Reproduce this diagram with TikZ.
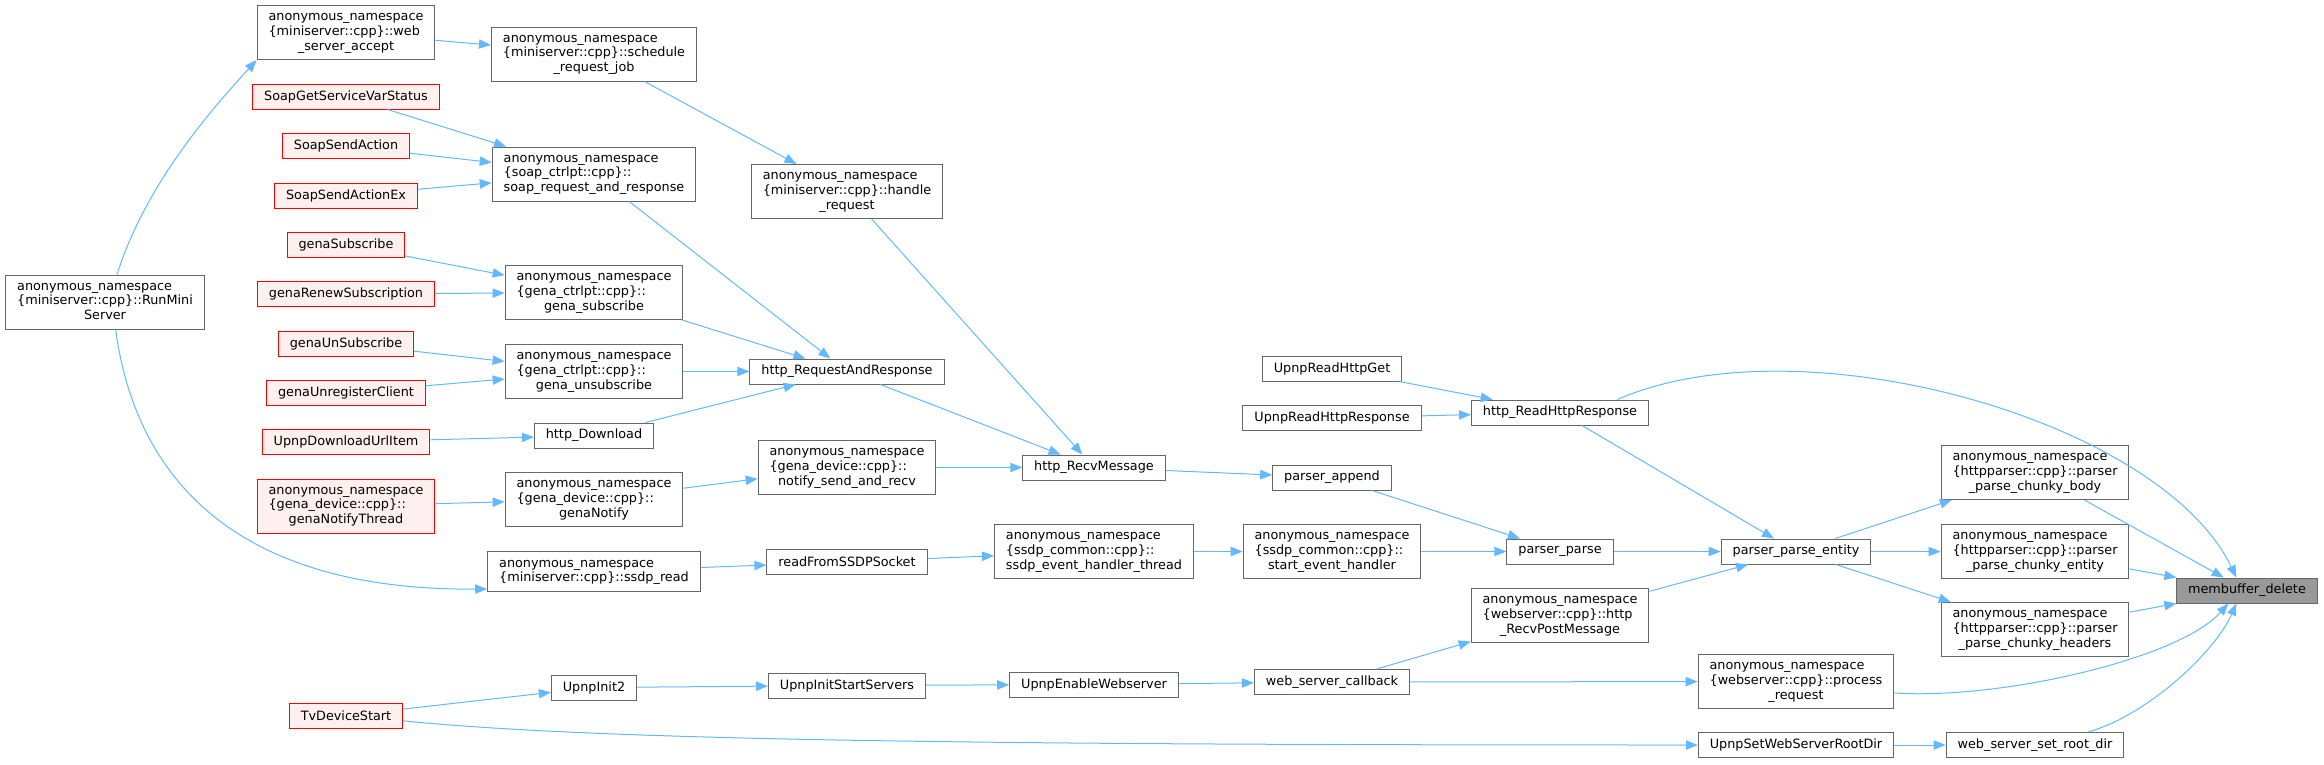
\documentclass[tikz,border=0pt]{standalone}
\usepackage{fontspec}
\setmainfont{DejaVu Sans}
\usepackage{xcolor}
\usetikzlibrary{arrows.meta}
\definecolor{edgeblue}{HTML}{63B8FF}
\definecolor{nodegray}{HTML}{666666}
\definecolor{redfill}{HTML}{FFF0F0}
\definecolor{selgray}{HTML}{999999}
\newcommand{\fnlabel}[3]{\begin{tabular}{@{}l@{}}#1\\#2\\\multicolumn{1}{@{}c@{}}{#3}\end{tabular}}
\newcommand{\fnlabelii}[2]{\begin{tabular}{@{}l@{}}#1\\#2\end{tabular}}
\tikzset{
  fn/.style={draw=nodegray, fill=white, line width=0.75pt, inner xsep=8.6pt, inner ysep=3.75pt,
    minimum height=18.75pt, font=\fontsize{9.6}{11}\selectfont},
  fnred/.style={fn, draw=red, fill=redfill},
  fnsel/.style={fn, fill=selgray},
  call/.style={-{Triangle[length=9pt,width=7pt]}, draw=edgeblue, line width=0.75pt},
}

\begin{document}
\begin{tikzpicture}[x=0.75pt, y=-0.75pt]
  \useasboundingbox (0,0) rectangle (2324,764);
  \node[fn] (run) at (105,302) {\fnlabel{anonymous\_namespace}{\{miniserver::cpp\}::RunMini}{Server}};

  \node[fn] (wsa) at (346,32.5) {\fnlabel{anonymous\_namespace}{\{miniserver::cpp\}::web}{\_server\_accept}};
  \node[fnred] (sgsv) at (346,96.5) {SoapGetServiceVarStatus};
  \node[fnred] (ssa) at (346,146) {SoapSendAction};
  \node[fnred] (ssax) at (346,195.5) {SoapSendActionEx};
  \node[fnred] (gsub) at (346,244.5) {genaSubscribe};
  \node[fnred] (grs) at (346,294) {genaRenewSubscription};
  \node[fnred] (gunsub) at (346,343.5) {genaUnSubscribe};
  \node[fnred] (gurc) at (346,392.5) {genaUnregisterClient};
  \node[fnred] (udui) at (346,442) {UpnpDownloadUrlItem};
  \node[fnred] (gnt) at (346,506) {\fnlabel{anonymous\_namespace}{\{gena\_device::cpp\}::}{genaNotifyThread}};
  \node[fnred] (tvds) at (346,715.5) {TvDeviceStart};

  \node[fn] (srj) at (594,54) {\fnlabel{anonymous\_namespace}{\{miniserver::cpp\}::schedule}{\_request\_job}};
  \node[fn] (srr) at (594,174) {\fnlabel{anonymous\_namespace}{\{soap\_ctrlpt::cpp\}::}{soap\_request\_and\_response}};
  \node[fn] (gs) at (594,292.5) {\fnlabel{anonymous\_namespace}{\{gena\_ctrlpt::cpp\}::}{gena\_subscribe}};
  \node[fn] (gu) at (594,371.5) {\fnlabel{anonymous\_namespace}{\{gena\_ctrlpt::cpp\}::}{gena\_unsubscribe}};
  \node[fn] (hdl) at (594,435.5) {http\_Download};
  \node[fn] (gn) at (594,499.5) {\fnlabel{anonymous\_namespace}{\{gena\_device::cpp\}::}{genaNotify}};
  \node[fn] (sr) at (594,571.5) {\fnlabelii{anonymous\_namespace}{\{miniserver::cpp\}::ssdp\_read}};
  \node[fn] (ui2) at (594,687.5) {UpnpInit2};

  \node[fn] (hr) at (847,191.5) {\fnlabel{anonymous\_namespace}{\{miniserver::cpp\}::handle}{\_request}};
  \node[fn] (hrar) at (847,371.5) {http\_RequestAndResponse};
  \node[fn] (nsr) at (847,467.5) {\fnlabel{anonymous\_namespace}{\{gena\_device::cpp\}::}{notify\_send\_and\_recv}};
  \node[fn] (rfs) at (847,562) {readFromSSDPSocket};
  \node[fn] (uiss) at (847,685.5) {UpnpInitStartServers};

  \node[fn] (hrm) at (1094,467.5) {http\_RecvMessage};
  \node[fn] (seht) at (1094,551.5) {\fnlabel{anonymous\_namespace}{\{ssdp\_common::cpp\}::}{ssdp\_event\_handler\_thread}};
  \node[fn] (uew) at (1094,684.5) {UpnpEnableWebserver};

  \node[fn] (urhg) at (1332,368.5) {UpnpReadHttpGet};
  \node[fn] (urhr) at (1332,418) {UpnpReadHttpResponse};
  \node[fn] (pa) at (1332,477.5) {parser\_append};
  \node[fn] (seh) at (1332,551.5) {\fnlabel{anonymous\_namespace}{\{ssdp\_common::cpp\}::}{start\_event\_handler}};
  \node[fn] (wsc) at (1332,682) {web\_server\_callback};

  \node[fn] (hrr) at (1560,412.5) {http\_ReadHttpResponse};
  \node[fn] (pp) at (1560,551.5) {parser\_parse};
  \node[fn] (hrpm) at (1560,615.5) {\fnlabel{anonymous\_namespace}{\{webserver::cpp\}::http}{\_RecvPostMessage}};

  \node[fn] (ppe) at (1796,551.5) {parser\_parse\_entity};
  \node[fn] (pr) at (1796,681.5) {\fnlabel{anonymous\_namespace}{\{webserver::cpp\}::process}{\_request}};
  \node[fn] (uswsrd) at (1796,745) {UpnpSetWebServerRootDir};

  \node[fn] (pcb) at (2035,472.5) {\fnlabel{anonymous\_namespace}{\{httpparser::cpp\}::parser}{\_parse\_chunky\_body}};
  \node[fn] (pce) at (2035,551.5) {\fnlabel{anonymous\_namespace}{\{httpparser::cpp\}::parser}{\_parse\_chunky\_entity}};
  \node[fn] (pch) at (2035,629.5) {\fnlabel{anonymous\_namespace}{\{httpparser::cpp\}::parser}{\_parse\_chunky\_headers}};
  \node[fn] (wssrd) at (2035,745) {web\_server\_set\_root\_dir};

  \node[fnsel] (mem) at (2247,590.5) {membuffer\_delete};

  \draw[call] ([xshift=9pt]run.north) .. controls +(30,-95) and +(-38,42) .. (wsa.south west);
  \draw[call] ([xshift=8pt]run.south) .. controls +(20,150) and +(-250,2) .. ([yshift=2pt]sr.south west);
  \draw[call] (wsa) -- (srj); \draw[call] (srj) -- (hr);
  \draw[call] (sgsv) -- (srr); \draw[call] (ssa) -- (srr); \draw[call] (ssax) -- (srr);
  \draw[call] (gsub) -- (gs); \draw[call] (grs) -- (gs);
  \draw[call] (gunsub) -- (gu); \draw[call] (gurc) -- (gu);
  \draw[call] (udui) -- (hdl); \draw[call] (gnt) -- (gn);
  \draw[call] (srr) -- (hrar); \draw[call] (gs) -- (hrar); \draw[call] (gu) -- (hrar); \draw[call] (hdl) -- (hrar);
  \draw[call] (gn) -- (nsr); \draw[call] (sr) -- (rfs);
  \draw[call] (tvds) -- (ui2); \draw[call] (ui2) -- (uiss);
  \draw[call] ([yshift=-4pt]tvds.east) .. controls +(200,20) and +(-700,0) .. (uswsrd.west);
  \draw[call] (hr) -- (hrm); \draw[call] (hrar) -- (hrm); \draw[call] (nsr) -- (hrm);
  \draw[call] (rfs) -- (seht); \draw[call] (uiss) -- (uew);
  \draw[call] (hrm) -- (pa); \draw[call] (seht) -- (seh); \draw[call] (uew) -- (wsc);
  \draw[call] (urhg) -- (hrr); \draw[call] (urhr) -- (hrr);
  \draw[call] (pa) -- (pp); \draw[call] (seh) -- (pp);
  \draw[call] (wsc) -- (hrpm); \draw[call] (wsc) -- (pr);
  \draw[call] (hrr) -- (ppe); \draw[call] (pp) -- (ppe); \draw[call] (hrpm) -- (ppe);
  \draw[call] (ppe) -- (pcb); \draw[call] (ppe) -- (pce); \draw[call] (ppe) -- (pch);
  \draw[call] (uswsrd) -- (wssrd);
  \draw[call] (pcb) -- (mem); \draw[call] (pce) -- (mem); \draw[call] (pch) -- (mem);
  \draw[call] ([xshift=43pt]hrr.north) .. controls +(183,-80) and +(-76,-158) .. ([xshift=-8pt]mem.north);
  \draw[call] ([yshift=-8.6pt]pr.east) .. controls +(104,7) and +(-50,56) .. ([xshift=-14pt]mem.south);
  \draw[call] ([xshift=40pt]wssrd.north) .. controls +(62,-18) and +(-20,46) .. ([xshift=-8pt]mem.south);
\end{tikzpicture}
\end{document}
